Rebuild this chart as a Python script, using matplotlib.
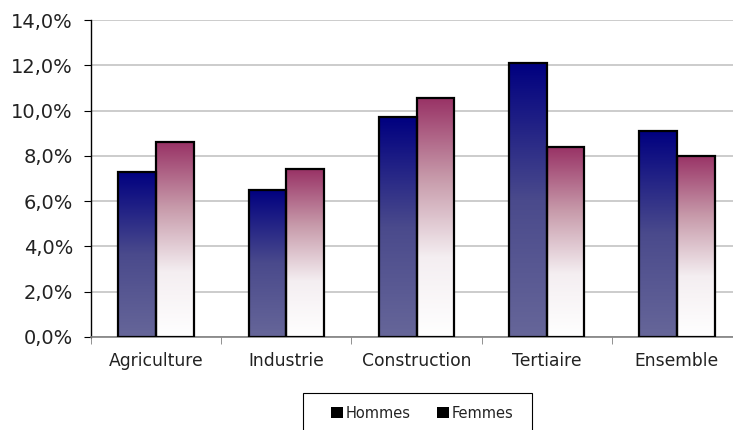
import numpy as np
import matplotlib
matplotlib.use('Agg')
import matplotlib.pyplot as plt
from matplotlib.colors import LinearSegmentedColormap
from matplotlib.patches import Patch, Rectangle

categories = ['Agriculture', 'Industrie', 'Construction', 'Tertiaire', 'Ensemble']
hommes = [7.3, 6.5, 9.7, 12.1, 9.1]
femmes = [8.6, 7.4, 10.55, 8.37, 8.0]
yticks = [0, 2, 4, 6, 8, 10, 12, 14]

cmap_h = LinearSegmentedColormap.from_list('h', ['#666699', '#4a4a8c', '#000080'])
cmap_f = LinearSegmentedColormap.from_list('f', ['#ffffff', '#f4eef1', '#c79aaa', '#993366'])

plt.rc('font', family='DejaVu Sans')
fig = plt.figure(figsize=(7.33, 4.3), dpi=100)
ax = fig.add_axes([91 / 733, 1 - 337 / 430, 651 / 733, 317 / 430])

w = 0.29
grad = np.linspace(0, 1, 256).reshape(-1, 1)
x = np.arange(len(categories))
for i in range(len(categories)):
    for off, val, cm in [(-w / 2, hommes[i], cmap_h), (w / 2, femmes[i], cmap_f)]:
        x0 = x[i] + off - w / 2
        ax.imshow(grad, cmap=cm, origin='lower', aspect='auto',
                  extent=[x0, x0 + w, 0, val], zorder=2, interpolation='bilinear')
        ax.add_patch(Rectangle((x0, 0), w, val, facecolor='none', edgecolor='black',
                               linewidth=1.6, zorder=3))

ax.set_xlim(-0.5, 4.5)
ax.set_ylim(0, 14)
ax.set_yticks(yticks)
ax.set_yticklabels([('%.1f' % v).replace('.', ',') + '%' for v in yticks], fontsize=14, color='#222222')
ax.set_xticks(x)
ax.set_xticklabels(categories, fontsize=12.3, color='#222222')
ax.set_xticks(np.arange(-0.5, 4.6, 1), minor=True)
ax.tick_params(axis='x', which='major', length=0, pad=11)
ax.tick_params(axis='x', which='minor', length=5, color='#808080', direction='out')
ax.tick_params(axis='y', length=5, direction='out', pad=8)
ax.grid(axis='y', color='#cccccc', linewidth=1.4, zorder=0)
ax.set_axisbelow(True)
for s in ['top', 'right']:
    ax.spines[s].set_visible(False)
ax.spines['bottom'].set_color('#808080')
ax.spines['bottom'].set_linewidth(1.2)
ax.spines['left'].set_linewidth(1.0)

# legend box
fig.patches.append(Rectangle((303 / 733, -0.02), 229 / 733, 0.02 + 37 / 430,
                             transform=fig.transFigure, facecolor='white',
                             edgecolor='black', linewidth=0.8))
handles = [Patch(facecolor='black', label='Hommes'), Patch(facecolor='black', label='Femmes')]
fig.legend(handles=handles, loc='center', bbox_to_anchor=(422 / 733, 1 - 413 / 430),
           ncol=2, frameon=False, fontsize=10.5, handlelength=0.82, handleheight=0.82,
           handletextpad=0.2, columnspacing=1.8, labelcolor='#222222')

plt.savefig('out.png', dpi=100)
